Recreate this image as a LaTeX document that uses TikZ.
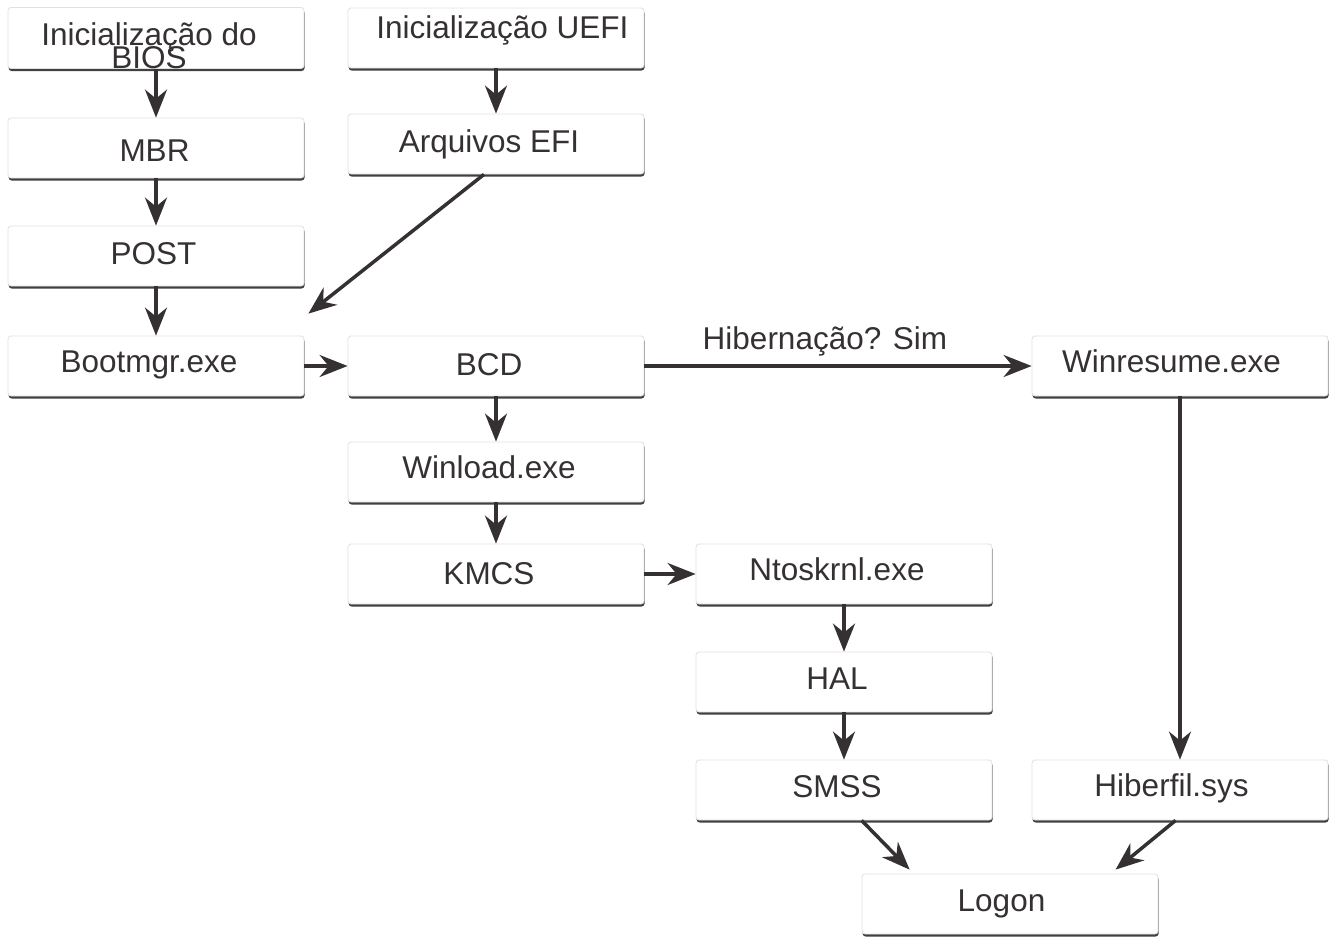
\documentclass[tikz,border=0pt]{standalone}
\usepackage{fontspec}
\setmainfont{Liberation Sans}
\usetikzlibrary{arrows.meta,shadows}
\definecolor{ink}{HTML}{353132}
\begin{document}
\begin{tikzpicture}[x=1pt,y=-1pt,
  nudge/.store in=\boxnudge,
  box/.style={draw=black!12, line width=0.8pt, fill=white, rounded corners=3pt,
    minimum width=296pt, minimum height=60pt, inner sep=0pt, text=ink,
    font=\fontsize{31.5}{23}\selectfont, text height=22pt, text depth=#1,
    nudge=-14pt, execute at begin node={\hspace*{\boxnudge}},
    general shadow={fill=black!75, shadow xshift=0.6pt, shadow yshift=-2.5pt}},
  box/.default=9pt,
  flow/.style={draw=ink, line width=3.5pt, -{Stealth[length=28pt,width=22pt,inset=9pt]}}]
\useasboundingbox (0,0) rectangle (1334,937);
% left column
\node[box, align=center, text height=61pt, text depth=0pt] (bios) at (156,38) {Inicialização do\\[-7pt]BIOS};
\node[box, nudge=-3pt] (mbr) at (156,148) [text height=27pt, text depth=0pt] {MBR};
\node[box=5pt, nudge=-5pt] (post) at (156,256) {POST};
\node[box=10pt] (bootmgr) at (156,366) {Bootmgr.exe};
% UEFI column
\node[box=21pt, nudge=13pt] (uefi) at (496,38) {Inicialização UEFI};
\node[box=5pt] (efi) at (496,144) {Arquivos EFI};
\node[box=3pt] (bcd) at (496,366) {BCD};
\node[box=10pt] (winload) at (496,472) {Winload.exe};
\node[box=1pt] (kmcs) at (496,574) {KMCS};
% kernel column
\node[box=10pt] (ntoskrnl) at (844,574) {Ntoskrnl.exe};
\node[box=7pt] (hal) at (844,682) {HAL};
\node[box=7pt] (smss) at (844,790) {SMSS};
% resume column
\node[box=10pt, nudge=-17pt] (winresume) at (1180,366) {Winresume.exe};
\node[box=10pt, nudge=-17pt] (hiberfil) at (1180,790) {Hiberfil.sys};
\node[box=7pt, nudge=-17pt] (logon) at (1010,904) {Logon};
% arrows
\draw[flow] (bios) -- (mbr);
\draw[flow] (mbr) -- (post);
\draw[flow] (post) -- (bootmgr);
\draw[flow] (uefi) -- (efi);
\draw[flow] ([xshift=-12pt]efi.south) -- ([xshift=4pt,yshift=22pt]bootmgr.north east);
\draw[flow] (bootmgr) -- (bcd);
\draw[flow] (bcd) -- (winresume)
  node[midway, yshift=25pt, xshift=-13pt, text=ink, font=\fontsize{31.5}{23}\selectfont] (hib) {Hibernação? Sim};
\draw[flow] (bcd) -- (winload);
\draw[flow] (winload) -- (kmcs);
\draw[flow] (kmcs) -- (ntoskrnl);
\draw[flow] (ntoskrnl) -- (hal);
\draw[flow] (hal) -- (smss);
\draw[flow] (winresume) -- (hiberfil);
\draw[flow] ([xshift=166pt]smss.south west) -- ([xshift=48pt,yshift=4pt]logon.north west);
\draw[flow] ([xshift=144pt]hiberfil.south west) -- ([xshift=254pt,yshift=4pt]logon.north west);
\end{tikzpicture}
\end{document}
